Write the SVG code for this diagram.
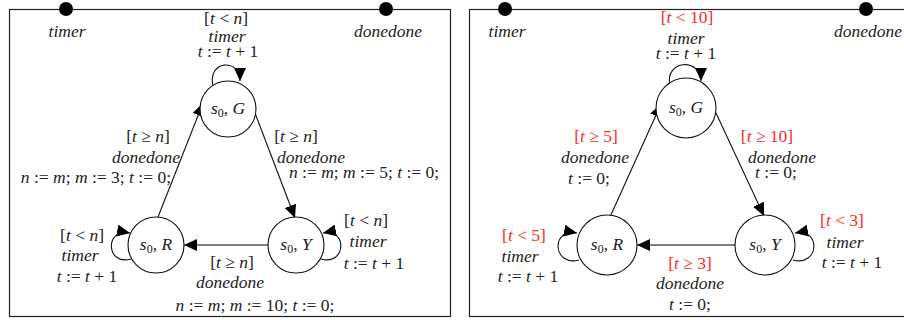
<svg xmlns="http://www.w3.org/2000/svg" width="904" height="320" viewBox="0 0 904 320">
<style>
.frame{fill:none;stroke:#222;stroke-width:1.2}
.node{fill:#fff;stroke:#111;stroke-width:1.1}
.edge{fill:none;stroke:#111;stroke-width:1.1}
.edge2{fill:none;stroke:#555;stroke-width:1.6}
.t{font-family:"Liberation Serif","Times New Roman",serif;font-size:17.5px;font-style:italic;fill:#222;text-anchor:middle}
.e{text-anchor:end}
.u{font-style:normal}
.sub{font-style:normal;font-size:12px}
.red{fill:#ff2a2a}
.dot{fill:#000}
</style>
<defs>
<marker id="ah" markerUnits="userSpaceOnUse" markerWidth="14" markerHeight="12" refX="13" refY="6" orient="auto">
<path d="M0,0 L13,6 L0,12 z" fill="#000"/>
</marker>
</defs>

<rect class="frame" x="9.5" y="9.5" width="441" height="307"/>
<rect class="frame" x="469.5" y="9.5" width="440" height="307"/>

<g id="ports-left">
<circle class="dot" cx="66" cy="9" r="7"/>
<circle class="dot" cx="386" cy="9" r="7"/>
<text class="t" x="67" y="37">timer</text>
<text class="t" x="388" y="37">donedone</text>
</g>

<g id="connectors-left">
<path class="edge" d="M213,86 C207,60 240,58 240,81" marker-end="url(#ah)"/>
<path class="edge" d="M158,217 L203,103" marker-end="url(#ah)"/>
<path class="edge" d="M255,113 L295,218" marker-end="url(#ah)"/>
<path class="edge2" d="M268,245 L184,245" marker-end="url(#ah)"/>
<path class="edge" d="M131,259 C106,266 104,228 130,233" marker-end="url(#ah)"/>
<path class="edge" d="M321,259 C346,266 348,228 323,233" marker-end="url(#ah)"/>
</g>

<g id="labels-left">
<text class="t" x="226" y="24"><tspan class="u">[</tspan>t <tspan class="u">&lt;</tspan> n<tspan class="u">]</tspan></text>
<text class="t" x="227" y="42">timer</text>
<text class="t" x="228" y="57">t <tspan class="u">:= </tspan>t <tspan class="u">+ 1</tspan></text>
<text class="t" x="148" y="142"><tspan class="u">[</tspan>t <tspan class="u">≥</tspan> n<tspan class="u">]</tspan></text>
<text class="t" x="146" y="163">donedone</text>
<text class="t e" x="171" y="183">n <tspan class="u">:=</tspan> m<tspan class="u">;</tspan> m <tspan class="u">:= 3;</tspan> t <tspan class="u">:= 0;</tspan></text>
<text class="t" x="296" y="142"><tspan class="u">[</tspan>t <tspan class="u">≥</tspan> n<tspan class="u">]</tspan></text>
<text class="t" x="311" y="163">donedone</text>
<text class="t" x="364" y="178">n <tspan class="u">:=</tspan> m<tspan class="u">;</tspan> m <tspan class="u">:= 5;</tspan> t <tspan class="u">:= 0;</tspan></text>
<text class="t" x="232" y="268"><tspan class="u">[</tspan>t <tspan class="u">≥</tspan> n<tspan class="u">]</tspan></text>
<text class="t" x="230" y="288">donedone</text>
<text class="t" x="255" y="311">n <tspan class="u">:=</tspan> m<tspan class="u">;</tspan> m <tspan class="u">:= 10;</tspan> t <tspan class="u">:= 0;</tspan></text>
<text class="t" x="82" y="241"><tspan class="u">[</tspan>t <tspan class="u">&lt;</tspan> n<tspan class="u">]</tspan></text>
<text class="t" x="80" y="261">timer</text>
<text class="t" x="87" y="282">t <tspan class="u">:= </tspan>t <tspan class="u">+ 1</tspan></text>
<text class="t" x="366" y="226"><tspan class="u">[</tspan>t <tspan class="u">&lt;</tspan> n<tspan class="u">]</tspan></text>
<text class="t" x="368" y="247">timer</text>
<text class="t" x="374" y="269">t <tspan class="u">:= </tspan>t <tspan class="u">+ 1</tspan></text>
</g>

<g id="node-G-left">
<circle class="node" cx="228" cy="109" r="28"/>
<text class="t" x="228" y="114">s<tspan class="sub" dy="3">0</tspan><tspan class="u" dy="-3">, </tspan>G</text>
</g>
<g id="node-R-left">
<circle class="node" cx="156" cy="245" r="28"/>
<text class="t" x="156" y="250">s<tspan class="sub" dy="3">0</tspan><tspan class="u" dy="-3">, </tspan>R</text>
</g>
<g id="node-Y-left">
<circle class="node" cx="296" cy="245" r="28"/>
<text class="t" x="296" y="250">s<tspan class="sub" dy="3">0</tspan><tspan class="u" dy="-3">, </tspan>Y</text>
</g>

<g id="ports-right">
<circle class="dot" cx="505" cy="9" r="7"/>
<circle class="dot" cx="866" cy="9" r="7"/>
<text class="t" x="507" y="37">timer</text>
<text class="t" x="868" y="37">donedone</text>
</g>

<g id="connectors-right">
<path class="edge" d="M670,86 C664,59 701,58 701,81" marker-end="url(#ah)"/>
<path class="edge" d="M610,217 L661,104" marker-end="url(#ah)"/>
<path class="edge" d="M716,113 L764,216" marker-end="url(#ah)"/>
<path class="edge2" d="M735,245 L637,245" marker-end="url(#ah)"/>
<path class="edge" d="M579,260 C553,267 550,228 577,233" marker-end="url(#ah)"/>
<path class="edge" d="M793,260 C819,267 822,228 795,233" marker-end="url(#ah)"/>
</g>

<g id="labels-right">
<text class="t red" x="687" y="23"><tspan class="u">[</tspan>t <tspan class="u">&lt; 10]</tspan></text>
<text class="t" x="686" y="44">timer</text>
<text class="t" x="686" y="59">t <tspan class="u">:= </tspan>t <tspan class="u">+ 1</tspan></text>
<text class="t red" x="596" y="142"><tspan class="u">[</tspan>t <tspan class="u">≥ 5]</tspan></text>
<text class="t" x="595" y="163">donedone</text>
<text class="t" x="589" y="184">t <tspan class="u">:= 0;</tspan></text>
<text class="t red" x="767" y="142"><tspan class="u">[</tspan>t <tspan class="u">≥ 10]</tspan></text>
<text class="t" x="782" y="163">donedone</text>
<text class="t" x="776" y="178">t <tspan class="u">:= 0;</tspan></text>
<text class="t red" x="690" y="269"><tspan class="u">[</tspan>t <tspan class="u">≥ 3]</tspan></text>
<text class="t" x="690" y="289">donedone</text>
<text class="t" x="690" y="310">t <tspan class="u">:= 0;</tspan></text>
<text class="t red" x="524" y="241"><tspan class="u">[</tspan>t <tspan class="u">&lt; 5]</tspan></text>
<text class="t" x="520" y="262">timer</text>
<text class="t" x="528" y="282">t <tspan class="u">:= </tspan>t <tspan class="u">+ 1</tspan></text>
<text class="t red" x="842" y="226"><tspan class="u">[</tspan>t <tspan class="u">&lt; 3]</tspan></text>
<text class="t" x="845" y="248">timer</text>
<text class="t" x="852" y="268">t <tspan class="u">:= </tspan>t <tspan class="u">+ 1</tspan></text>
</g>

<g id="node-G-right">
<circle class="node" cx="686" cy="108" r="30"/>
<text class="t" x="686" y="113">s<tspan class="sub" dy="3">0</tspan><tspan class="u" dy="-3">, </tspan>G</text>
</g>
<g id="node-R-right">
<circle class="node" cx="607" cy="245" r="30"/>
<text class="t" x="607" y="250">s<tspan class="sub" dy="3">0</tspan><tspan class="u" dy="-3">, </tspan>R</text>
</g>
<g id="node-Y-right">
<circle class="node" cx="765" cy="245" r="30"/>
<text class="t" x="765" y="250">s<tspan class="sub" dy="3">0</tspan><tspan class="u" dy="-3">, </tspan>Y</text>
</g>
</svg>
